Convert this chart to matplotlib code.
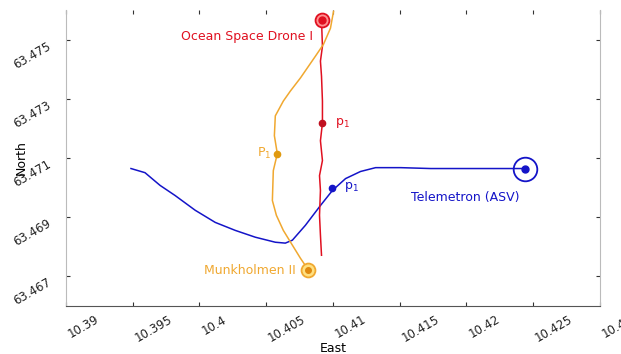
import matplotlib
matplotlib.use("Agg")
import matplotlib.pyplot as plt

# Telemetron (ASV) track
blue_east = [10.39488, 10.39593, 10.39706, 10.39818, 10.39969, 10.40119, 10.40269,
             10.40419, 10.40569, 10.40644, 10.40697, 10.40794, 10.40907, 10.40997,
             10.41095, 10.41207, 10.41320, 10.41508, 10.41733, 10.42439]
blue_north = [63.47064, 63.47050, 63.47007, 63.46973, 63.46923, 63.46882, 63.46855,
              63.46832, 63.46815, 63.46812, 63.46822, 63.46872, 63.46939, 63.46990,
              63.47030, 63.47054, 63.47067, 63.47067, 63.47064, 63.47064]

# Ocean Space Drone I track
red_east = [10.40915, 10.40922, 10.40907, 10.40915, 10.40922, 10.40922, 10.40907,
            10.40922, 10.40900, 10.40907, 10.40900, 10.40907, 10.40915]
red_north = [63.47565, 63.47477, 63.47427, 63.47376, 63.47292, 63.47218, 63.47158,
             63.47091, 63.47040, 63.46990, 63.46906, 63.46839, 63.46771]

# Munkholmen II track
orange_east = [10.41005, 10.40982, 10.40930, 10.40870, 10.40757, 10.40682, 10.40629,
               10.40569, 10.40562, 10.40584, 10.40554, 10.40547, 10.40577, 10.40629,
               10.40697, 10.40757, 10.40817]
orange_north = [63.47595, 63.47538, 63.47484, 63.47444, 63.47370, 63.47326, 63.47292,
                63.47242, 63.47175, 63.47114, 63.47057, 63.46956, 63.46906, 63.46855,
                63.46805, 63.46761, 63.46721]

# p1 points
p1_blue = (10.40997, 63.46997)
p1_red = (10.40922, 63.47218)
p1_orange = (10.40584, 63.47114)

# end markers
end_blue = (10.42439, 63.47064)
end_red = (10.40915, 63.47565)
end_orange = (10.40817, 63.46721)

xticks = [10.39, 10.395, 10.4, 10.405, 10.41, 10.415, 10.42, 10.425, 10.43]
xticklabels = ["10.39", "10.395", "10.4", "10.405", "10.41", "10.415", "10.42", "10.425", "10.43"]
yticks = [63.467, 63.469, 63.471, 63.473, 63.475]
yticklabels = ["63.467", "63.469", "63.471", "63.473", "63.475"]

c_blue = "#1414c8"
c_red = "#e01020"
c_orange = "#f0a830"

fig = plt.figure(figsize=(6.21, 3.54), dpi=100)
ax = fig.add_axes([0.106, 0.136, 0.86, 0.836])

ax.plot(blue_east, blue_north, color=c_blue, lw=1.1)
ax.plot(red_east, red_north, color=c_red, lw=1.1)
ax.plot(orange_east, orange_north, color=c_orange, lw=1.1)

# p1 markers
ax.plot(*p1_blue, "o", color=c_blue, ms=4.5)
ax.plot(*p1_red, "o", color="#c01020", ms=4.5)
ax.plot(*p1_orange, "o", color="#e09a10", ms=4.5)

# end rings
ax.plot(*end_blue, "o", mfc="none", mec=c_blue, ms=17, mew=1.3)
ax.plot(*end_blue, "o", color=c_blue, ms=5)
ax.plot(*end_red, "o", mfc="#ff9090", mec=c_red, ms=10, mew=1.3)
ax.plot(*end_red, "o", color=c_red, ms=5)
ax.plot(*end_orange, "o", mfc="#ffe080", mec=c_orange, ms=10, mew=1.3)
ax.plot(*end_orange, "o", color="#e08a10", ms=4)

# labels
ax.annotate("Ocean Space Drone I", end_red, xytext=(-6, -12), textcoords="offset points",
            color=c_red, fontsize=9, ha="right", va="center")
ax.annotate("Munkholmen II", end_orange, xytext=(-9, 0), textcoords="offset points",
            color=c_orange, fontsize=9, ha="right", va="center")
ax.annotate("Telemetron (ASV)", end_blue, xytext=(-43, -21), textcoords="offset points",
            color=c_blue, fontsize=9, ha="center", va="center")
ax.annotate("p$_1$", p1_red, xytext=(9, 0), textcoords="offset points",
            color=c_red, fontsize=9, ha="left", va="center")
ax.annotate("p$_1$", p1_blue, xytext=(8, 1), textcoords="offset points",
            color=c_blue, fontsize=9, ha="left", va="center")
ax.annotate("P$_1$", p1_orange, xytext=(-4, 0), textcoords="offset points",
            color=c_orange, fontsize=9, ha="right", va="center")

ax.set_xlim(10.39, 10.43)
ax.set_ylim(63.466, 63.476)
ax.set_xticks(xticks)
ax.set_xticklabels(xticklabels, rotation=30, fontsize=8.5, ha="left", va="top")
ax.set_yticks(yticks)
ax.set_yticklabels(yticklabels, rotation=30, fontsize=8.5, ha="right", va="top")
ax.tick_params(direction="in", length=3, top=True, right=True, color="#333333",
               labelcolor="#222222")
ax.tick_params(axis="x", pad=5)
ax.tick_params(axis="y", pad=9)

ax.spines["top"].set_visible(False)
ax.spines["left"].set_color("#bbbbbb")
ax.spines["right"].set_color("#bbbbbb")
ax.spines["bottom"].set_color("#555555")

ax.set_xlabel("East", fontsize=9, labelpad=-2)
ax.set_ylabel("North", fontsize=9, labelpad=-12)

fig.savefig("out.png", dpi=100)
